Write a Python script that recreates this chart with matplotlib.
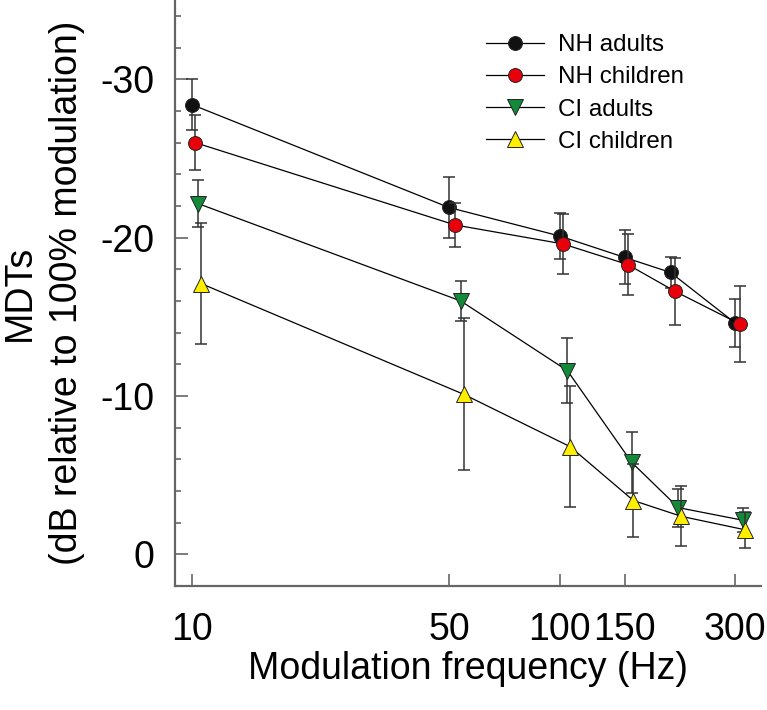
#!/usr/bin/env python3

import matplotlib
matplotlib.use('Agg')
import matplotlib.pyplot as plt
from matplotlib.ticker import FixedLocator, MultipleLocator, NullLocator

plt.rcParams['font.family'] = ['Liberation Sans', 'DejaVu Sans']
plt.rcParams['axes.unicode_minus'] = False

labels = ['NH adults', 'NH children', 'CI adults', 'CI children']

# frequencies (Hz), groups slightly offset as in the figure
x_nh_ad = [10, 50, 100, 150, 200, 300]
x_nh_ch = [10.2, 51.9, 102, 153, 206, 308]
x_ci_ad = [10.4, 53.8, 104.9, 157, 210, 315]
x_ci_ch = [10.6, 54.9, 106.7, 158.5, 214, 319]

# MDTs (dB re 100% modulation) and error bars
y_nh_ad = [-28.4, -21.9, -20.1, -18.75, -17.8, -14.6]
e_nh_ad = [1.6, 1.9, 1.45, 1.7, 1.0, 1.5]
y_nh_ch = [-26.0, -20.8, -19.6, -18.3, -16.6, -14.55]
e_nh_ch = [1.75, 1.4, 1.9, 1.95, 2.1, 2.4]
y_ci_ad = [-22.15, -16.0, -11.6, -5.8, -2.95, -2.15]
e_ci_ad = [1.5, 1.25, 2.05, 1.95, 1.2, 0.75]
y_ci_ch = [-17.1, -10.1, -6.8, -3.4, -2.4, -1.55]
e_ci_ch = [3.8, 4.8, 3.8, 2.3, 1.9, 1.15]

xticks = [10, 50, 100, 150, 300]
xticklabels = ['10', '50', '100', '150', '300']

fig = plt.figure(figsize=(7.67, 7.10), dpi=100)
ax = fig.add_axes([0.228, 0.1746, 0.764, 0.8254])

series = [
    (x_nh_ad, y_nh_ad, e_nh_ad, 'o', '#111111', 10),
    (x_nh_ch, y_nh_ch, e_nh_ch, 'o', '#e8000b', 10),
    (x_ci_ad, y_ci_ad, e_ci_ad, 'v', '#138a3a', 11),
    (x_ci_ch, y_ci_ch, e_ci_ch, '^', '#ffee00', 11),
]

for i, (xs, ys, es, mk, col, ms) in enumerate(series):
    ax.errorbar(xs, ys, yerr=es, fmt='none', ecolor='#333333', elinewidth=1.1,
                capsize=4.5, capthick=1.1, zorder=2 + i * 2)
    ax.plot(xs, ys, color='black', lw=0.9, marker=mk, ms=ms, mfc=col,
            mec='#222222', mew=0.7, label=labels[i], zorder=3 + i * 2)

ax.set_xscale('log')
ax.set_xlim(9, 352)
ax.set_ylim(2, -35)

ax.xaxis.set_major_locator(FixedLocator(xticks))
ax.set_xticklabels(xticklabels)
ax.xaxis.set_minor_locator(NullLocator())
ax.yaxis.set_major_locator(FixedLocator([-30, -20, -10, 0]))
ax.yaxis.set_minor_locator(MultipleLocator(2))

for s in ['top', 'right']:
    ax.spines[s].set_visible(False)
for s in ['left', 'bottom']:
    ax.spines[s].set_color('#666666')
    ax.spines[s].set_linewidth(1.6)

ax.tick_params(which='major', direction='in', length=9, width=1.2,
               color='#666666', labelsize=27)
ax.tick_params(which='minor', direction='in', length=4, width=1.2,
               color='#666666')
ax.tick_params(axis='x', pad=19)
ax.tick_params(axis='y', pad=15)

ax.set_xlabel('Modulation frequency (Hz)', fontsize=27, labelpad=2)
ax.set_ylabel('MDTs\n(dB relative to 100% modulation)', fontsize=27,
              linespacing=1.4)
ax.yaxis.set_label_coords(-0.153, 0.5)

ax.legend(loc='upper left', bbox_to_anchor=(0.514, 0.958), frameon=False,
          fontsize=17.4, handlelength=2.4, handletextpad=0.6,
          labelspacing=0.42, borderaxespad=0)

fig.savefig('out.png', dpi=100)
